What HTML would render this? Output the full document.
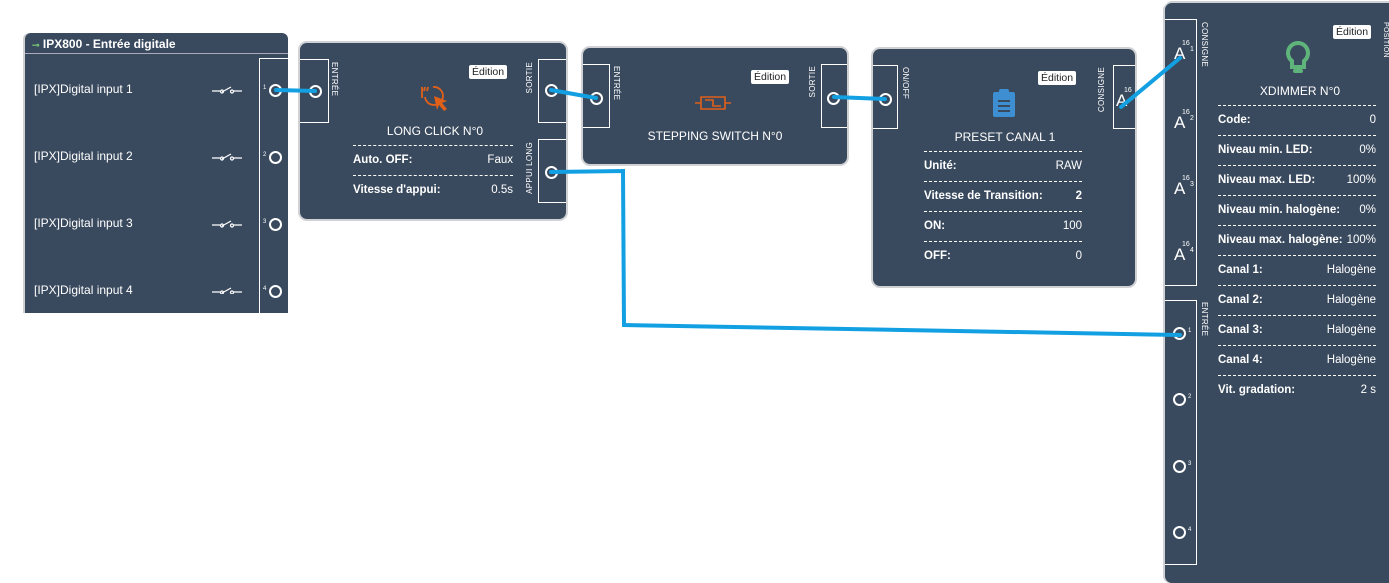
<!DOCTYPE html>
<html><head><meta charset="utf-8"><style>
body{margin:0;width:1389px;height:575px;background:#fff;position:relative;overflow:hidden;font-family:"Liberation Sans",Arial,sans-serif;color:#fff}
.n{position:absolute;background:#3a4a5e;border-radius:7px}
.sh{box-shadow:0 0 0 2px #cfd1d4}
.pb{position:absolute;border:1px solid #fff;box-sizing:border-box}
.c{position:absolute;width:9px;height:9px;border:2px solid #fff;border-radius:50%}
.vl{position:absolute;font-size:8px;writing-mode:vertical-rl;letter-spacing:0.3px;white-space:nowrap}
.vu{transform:rotate(180deg)}
.ed{position:absolute;background:#fff;color:#222;font-size:10.5px;padding:1px 3px;border-radius:2px}
.t{position:absolute;font-size:12px;white-space:nowrap}
.row{position:absolute;font-size:11.5px;font-weight:bold;display:flex;justify-content:space-between;border-top:1px dashed #fff;padding-top:8px;box-sizing:border-box}
.row span:last-child{font-weight:normal}
.ti{position:absolute;font-size:12px;text-align:center}
.A{position:absolute;font-size:17px}
.A sup{position:absolute;font-size:7px;left:8px;top:-4px}
.A sub{position:absolute;font-size:7px;left:16px;top:2px}
</style></head><body>

<!-- IPX800 -->
<div class="n" style="left:25px;top:33px;width:263px;height:280px;border-radius:6px 6px 0 0;box-shadow:-2px 0 0 #cfd1d4"></div>
<div style="position:absolute;left:25px;top:53px;width:263px;height:1px;background:#aab"></div>
<div class="t" style="left:32px;top:37px;font-weight:bold;font-size:12px"><span style="color:#7c7;font-size:9px">⊸</span> IPX800 - Entrée digitale</div>
<div style="position:absolute;left:259px;top:58px;width:1px;height:255px;background:#fff"></div>
<div style="position:absolute;left:259px;top:58px;width:29px;height:1px;background:#fff"></div>
<div class="t" style="left:34px;top:82px">[IPX]Digital input 1</div>
<div class="t" style="left:34px;top:149px">[IPX]Digital input 2</div>
<div class="t" style="left:34px;top:216px">[IPX]Digital input 3</div>
<div class="t" style="left:34px;top:283px">[IPX]Digital input 4</div>
<svg style="position:absolute;left:212px;top:84px" width="30" height="210"><g fill="none" stroke="#fff" stroke-width="1.2">
<g id="sw"><path d="M0 7h8M22 7h8M10 8L19 3"/><circle cx="10" cy="7.5" r="1.5"/><circle cx="20" cy="7.5" r="1.5"/></g>
<use href="#sw" y="67"/><use href="#sw" y="134"/><use href="#sw" y="201"/></g></svg>
<div class="t" style="left:263px;top:85px;font-size:6px">1</div><div class="c" style="left:269px;top:84px"></div>
<div class="t" style="left:263px;top:152px;font-size:6px">2</div><div class="c" style="left:269px;top:151px"></div>
<div class="t" style="left:263px;top:219px;font-size:6px">3</div><div class="c" style="left:269px;top:218px"></div>
<div class="t" style="left:263px;top:286px;font-size:6px">4</div><div class="c" style="left:269px;top:285px"></div>

<!-- LONG CLICK -->
<div class="n sh" style="left:300px;top:43px;width:266px;height:176px"></div>
<div class="pb" style="left:300px;top:59px;width:29px;height:64px;border-left:none"></div>
<div class="c" style="left:309px;top:85px"></div>
<div class="vl" style="left:330px;top:62px">ENTRÉE</div>
<div class="pb" style="left:538px;top:59px;width:28px;height:64px;border-right:none"></div>
<div class="c" style="left:545px;top:84px"></div>
<div class="vl vu" style="left:525px;top:62px">SORTIE</div>
<div class="pb" style="left:538px;top:139px;width:28px;height:64px;border-right:none"></div>
<div class="c" style="left:545px;top:166px"></div>
<div class="vl vu" style="left:525px;top:142px">APPUI LONG</div>
<div class="ed" style="left:469px;top:65px">Édition</div>
<svg style="position:absolute;left:416px;top:84px" width="36" height="30"><g fill="none" stroke="#e0601a" stroke-width="1.8"><path d="M6 3v11"/><path d="M9 3l-1 4M12 3l-1 4"/><path d="M9 13a9 9 0 1 0 8-10"/></g><path d="M18 12l13 5-5 2 5 6-3 2-5-6-2 5z" fill="#e0601a"/></svg>
<div class="ti" style="left:340px;width:190px;top:124px">LONG CLICK N°0</div>
<div class="row" style="left:353px;width:160px;top:145px"><span>Auto. OFF:</span><span>Faux</span></div>
<div class="row" style="left:353px;width:160px;top:175px"><span>Vitesse d'appui:</span><span>0.5s</span></div>

<!-- STEPPING -->
<div class="n sh" style="left:583px;top:48px;width:264px;height:116px"></div>
<div class="pb" style="left:583px;top:64px;width:27px;height:64px;border-left:none"></div>
<div class="c" style="left:590px;top:92px"></div>
<div class="vl" style="left:612px;top:66px">ENTRÉE</div>
<div class="pb" style="left:821px;top:64px;width:26px;height:64px;border-right:none"></div>
<div class="c" style="left:827px;top:92px"></div>
<div class="vl vu" style="left:808px;top:66px">SORTIE</div>
<div class="ed" style="left:751px;top:70px">Édition</div>
<svg style="position:absolute;left:693px;top:95px" width="40" height="16"><path d="M2 8h6M32 8h6M8 2h24v12H8z M12 5h8v6h8" fill="none" stroke="#e0601a" stroke-width="1.6"/></svg>
<div class="ti" style="left:615px;width:200px;top:129px">STEPPING SWITCH N°0</div>

<!-- PRESET -->
<div class="n sh" style="left:873px;top:49px;width:262px;height:237px"></div>
<div class="pb" style="left:873px;top:65px;width:25px;height:64px;border-left:none"></div>
<div class="c" style="left:879px;top:93px"></div>
<div class="vl" style="left:901px;top:67px">ON/OFF</div>
<div class="pb" style="left:1113px;top:65px;width:22px;height:64px;border-right:none"></div>
<div class="A" style="left:1116px;top:91px">A<sup>16</sup></div>
<div class="vl vu" style="left:1097px;top:67px">CONSIGNE</div>
<div class="ed" style="left:1038px;top:71px">Édition</div>
<svg style="position:absolute;left:991px;top:88px" width="26" height="30"><rect x="2" y="4" width="22" height="25" rx="2" fill="#3d8fd1"/><rect x="8" y="1" width="10" height="6" rx="2" fill="#3d8fd1"/><path d="M7 13h12M7 18h12M7 23h12" stroke="#3a4a5e" stroke-width="2"/></svg>
<div class="ti" style="left:900px;width:210px;top:130px">PRESET CANAL 1</div>
<div class="row" style="left:924px;width:158px;top:151px"><span>Unité:</span><span>RAW</span></div>
<div class="row" style="left:924px;width:158px;top:181px"><span>Vitesse de Transition:</span><span style="font-weight:bold">2</span></div>
<div class="row" style="left:924px;width:158px;top:211px"><span>ON:</span><span>100</span></div>
<div class="row" style="left:924px;width:158px;top:241px"><span>OFF:</span><span>0</span></div>

<!-- XDIMMER -->
<div class="n" style="left:1165px;top:3px;width:230px;height:580px;box-shadow:-2px 0 0 #cfd1d4,0 -2px 0 #cfd1d4"></div>
<div class="pb" style="left:1165px;top:19px;width:32px;height:267px;border-left:none"></div>
<div class="vl" style="left:1200px;top:22px">CONSIGNE</div>
<div class="A" style="left:1174px;top:44px">A<sup>16</sup><sub>1</sub></div>
<div class="A" style="left:1174px;top:113px">A<sup>16</sup><sub>2</sub></div>
<div class="A" style="left:1174px;top:179px">A<sup>16</sup><sub>3</sub></div>
<div class="A" style="left:1174px;top:245px">A<sup>16</sup><sub>4</sub></div>
<div class="pb" style="left:1165px;top:300px;width:32px;height:265px;border-left:none"></div>
<div class="vl" style="left:1200px;top:302px">ENTRÉE</div>
<div class="c" style="left:1173px;top:327px"></div><div class="t" style="left:1188px;top:328px;font-size:6px">1</div>
<div class="c" style="left:1173px;top:393px"></div><div class="t" style="left:1188px;top:394px;font-size:6px">2</div>
<div class="c" style="left:1173px;top:460px"></div><div class="t" style="left:1188px;top:461px;font-size:6px">3</div>
<div class="c" style="left:1173px;top:526px"></div><div class="t" style="left:1188px;top:527px;font-size:6px">4</div>
<div class="vl" style="left:1382px;top:22px;font-size:7px">POSITION</div>
<div class="ed" style="left:1333px;top:25px">Édition</div>
<svg style="position:absolute;left:1285px;top:40px" width="26" height="36"><path d="M13 3a10 10 0 0 0-6 18v6h12v-6a10 10 0 0 0-6-18z" fill="none" stroke="#5fb47b" stroke-width="4"/><rect x="8" y="29" width="10" height="4" rx="2" fill="#5fb47b"/></svg>
<div class="ti" style="left:1230px;width:140px;top:84px">XDIMMER N°0</div>
<div class="row" style="left:1218px;width:158px;top:105px"><span>Code:</span><span>0</span></div>
<div class="row" style="left:1218px;width:158px;top:135px"><span>Niveau min. LED:</span><span>0%</span></div>
<div class="row" style="left:1218px;width:158px;top:165px"><span>Niveau max. LED:</span><span>100%</span></div>
<div class="row" style="left:1218px;width:158px;top:195px"><span>Niveau min. halogène:</span><span>0%</span></div>
<div class="row" style="left:1218px;width:158px;top:225px"><span>Niveau max. halogène:</span><span>100%</span></div>
<div class="row" style="left:1218px;width:158px;top:255px"><span>Canal 1:</span><span>Halogène</span></div>
<div class="row" style="left:1218px;width:158px;top:285px"><span>Canal 2:</span><span>Halogène</span></div>
<div class="row" style="left:1218px;width:158px;top:315px"><span>Canal 3:</span><span>Halogène</span></div>
<div class="row" style="left:1218px;width:158px;top:345px"><span>Canal 4:</span><span>Halogène</span></div>
<div class="row" style="left:1218px;width:158px;top:375px"><span>Vit. gradation:</span><span>2 s</span></div>

<!-- wires -->
<svg style="position:absolute;left:0;top:0" width="1389" height="575">
<g fill="none" stroke="#12a0e3" stroke-width="4" stroke-linecap="round">
<path d="M276 90L315 91"/>
<path d="M551 90L596 98"/>
<path d="M834 97L885 99"/>
<path d="M1121 107L1180 58"/>
<path d="M551 172L623 171L624 325L1180 335"/>
</g></svg>
</body></html>
